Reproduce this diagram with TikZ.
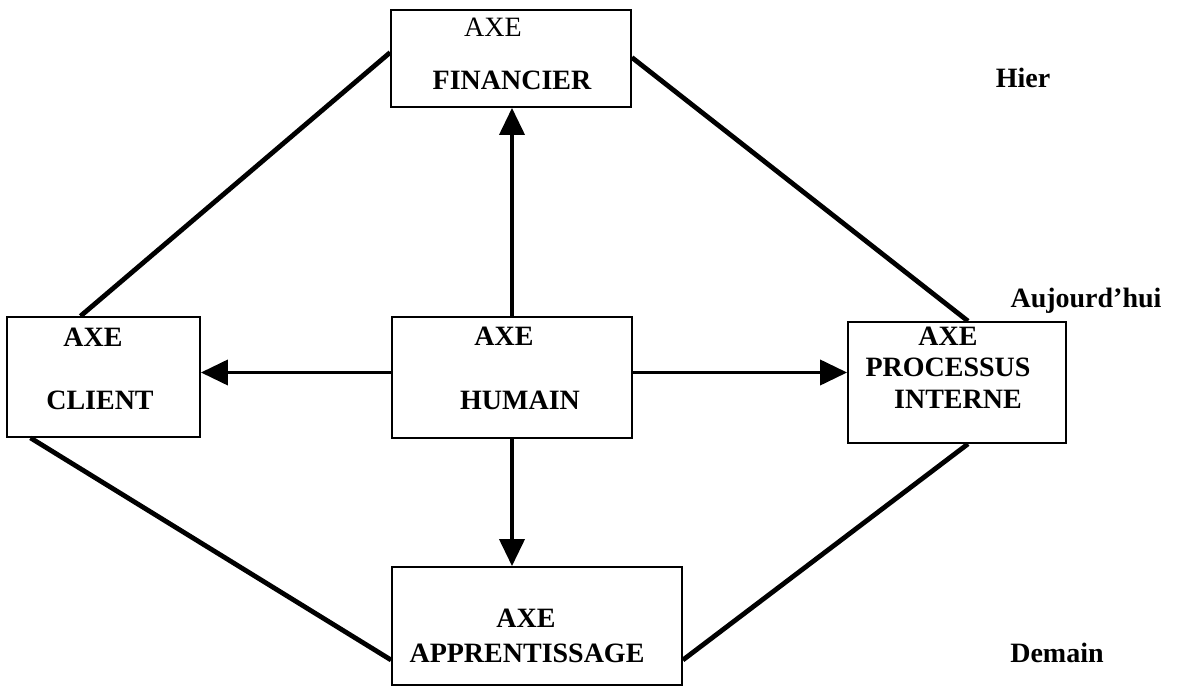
\documentclass[tikz,border=0pt]{standalone}
\usepackage{fontspec}
\setmainfont{Liberation Serif}
\usetikzlibrary{arrows.meta}
\begin{document}
\begin{tikzpicture}[x=1pt,y=-1pt,
  axebox/.style={draw,line width=1.8pt,rectangle,inner sep=0pt},
  lbl/.style={anchor=base,inner sep=0pt,font=\fontsize{28}{32}\selectfont\bfseries},
  lblr/.style={anchor=base,inner sep=0pt,font=\fontsize{28}{32}\selectfont},
  link/.style={line width=4.8pt},
  arr/.style={line width=3.8pt,-{Triangle[length=27pt,width=25pt]}}]
\useasboundingbox (0,0) rectangle (1187,687);
% boxes
\node[axebox,minimum width=240pt,minimum height=97pt] (fin) at (511,58.5) {};
\node[axebox,minimum width=193pt,minimum height=120pt] (cli) at (103.5,377) {};
\node[axebox,minimum width=240pt,minimum height=121pt] (hum) at (512,377.5) {};
\node[axebox,minimum width=218pt,minimum height=121pt] (proc) at (957,382.5) {};
\node[axebox,minimum width=290pt,minimum height=118pt] (app) at (537,626) {};
% texts
\node[lblr] (t1) at (493,37) {AXE};
\node[lbl] (t2) at (512,90) {FINANCIER};
\node[lbl] (t3) at (93,346) {AXE};
\node[lbl] (t4) at (100,409) {CLIENT};
\node[lbl] (t5) at (504,345) {AXE};
\node[lbl] (t6) at (520,409) {HUMAIN};
\node[lbl] (t7) at (948,345) {AXE};
\node[lbl] (t8) at (948,376) {PROCESSUS};
\node[lbl] (t9) at (958,408) {INTERNE};
\node[lbl] (t10) at (526,627) {AXE};
\node[lbl] (t11) at (527,662) {APPRENTISSAGE};
\node[lbl] (h1) at (1023,88) {Hier};
\node[lbl] (h2) at (1086,308) {Aujourd’hui};
\node[lbl] (h3) at (1057,662) {Demain};
% diamond links
\draw[link] ([yshift=6pt]fin.west) -- ([xshift=-23pt]cli.north);
\draw[link] ([yshift=1pt]fin.east) -- ([xshift=11pt]proc.north);
\draw[link] ([xshift=-73pt]cli.south) -- ([yshift=-34pt]app.west);
\draw[link] ([xshift=11pt]proc.south) -- ([yshift=-34pt]app.east);
% arrows
\draw[arr] (hum.north) -- (hum.north |- fin.south);
\draw[arr] ([yshift=5pt]hum.west) -- ([yshift=5pt]hum.west -| cli.east);
\draw[arr] ([yshift=5pt]hum.east) -- ([yshift=5pt]hum.east -| proc.west);
\draw[arr] (hum.south) -- (hum.south |- app.north);
\end{tikzpicture}
\end{document}
